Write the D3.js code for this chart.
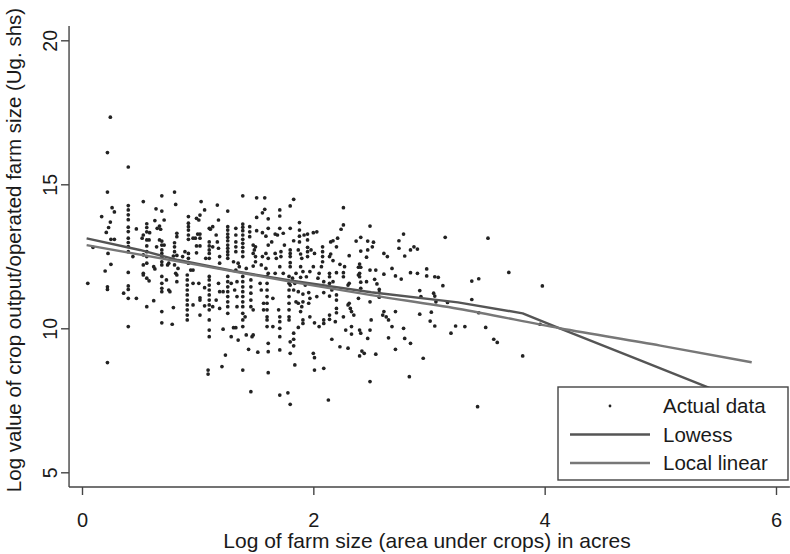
<!DOCTYPE html>
<html>
<head>
<meta charset="utf-8">
<script src="https://cdn.jsdelivr.net/npm/d3@7"></script>
<style>
  body { margin: 0; background: #fff; }
  text { font-family: "Liberation Sans", Arial, Helvetica, sans-serif; fill: #1a1a1a; }
</style>
</head>
<body>
<div id="chart"></div>
<script>
// axis ticks
const xTicks = [0, 2, 4, 6];
const yTicks = [5, 10, 15, 20];

// smoothers (log farm size -> log value per acre)
const lowessX = [0.04, 0.5, 0.83, 1.3, 1.8, 2.5, 3.25, 3.81, 4.13, 4.8, 5.38, 5.75];
const lowessY = [13.12, 12.72, 12.37, 12.0, 11.66, 11.25, 10.9, 10.52, 10.0, 8.93, 8.0, 7.4];
const localLinearX = [0.04, 1.0, 1.8, 2.5, 3.25, 4.13, 5.0, 5.79];
const localLinearY = [12.89, 12.2, 11.62, 11.15, 10.68, 10.0, 9.4, 8.82];

// actual data
const actualData = [
  [0.245,17.33],[0.22,16.1],[0.40,15.6],[0.22,14.73],[0.80,14.73],[0.81,14.3],[0.53,14.4],[0.69,14.6],
  [0.40,14.26],[0.40,14.11],[0.40,13.94],[0.40,13.77],[0.40,13.51],[0.40,13.36],[0.40,13.13],[0.40,12.98],[0.40,12.84],[0.40,12.66],
  [0.26,14.19],[0.28,14.04],[0.17,13.88],[0.245,13.69],[0.23,13.5],[0.21,13.33],[0.25,13.09],[0.28,13.09],
  [0.64,14.15],[0.69,14.07],[0.63,13.74],[0.71,13.76],[0.67,13.55],[0.65,13.47],[0.68,13.44],
  [0.56,13.63],[0.56,13.5],[0.56,13.35],[0.47,13.45],[0.53,13.24],[0.585,13.32],
  [0.56,13.07],[0.56,12.86],[0.56,12.66],[0.56,12.49],[0.52,13.13],[0.58,13.07],[0.67,13.07],[0.69,13.03],
  [0.69,12.89],[0.69,12.72],[0.69,12.6],[0.69,12.47],[0.69,12.31],[0.69,12.2],[0.71,12.89],[0.645,12.83],
  [0.82,13.3],[0.82,13.18],[0.80,12.97],[0.80,12.83],[0.80,12.66],[0.79,12.51],[0.82,12.53],
  [0.92,13.88],[0.92,13.65],[0.92,13.53],[0.92,13.41],[0.92,13.24],[0.92,13.09],[0.89,12.66],[0.92,12.6],[0.92,12.43],[0.87,12.49],
  [0.99,13.82],[1.01,13.76],[1.02,13.93],[1.03,14.4],[1.06,14.11],
  [1.0,13.27],[1.02,13.27],[1.02,13.13],[0.98,13.13],[0.96,13.13],
  [1.10,13.47],[1.11,13.44],[1.10,13.0],[1.10,12.86],[1.10,12.72],[1.10,12.6],[1.10,12.43],[1.07,12.43],
  [0.99,12.86],[1.02,12.86],[0.99,12.62],[0.92,12.26],[0.94,12.02],[0.96,12.02],
  [0.25,12.22],[0.20,11.99],[0.40,11.94],[0.53,11.91],[0.63,12.06],[0.74,12.2],[0.81,11.91],
  [0.225,12.6],[0.44,12.49],[0.095,12.81],
  [1.39,14.6],[1.51,14.53],[1.58,14.53],[1.83,14.48],[1.80,14.25],[1.17,14.28],[1.26,14.07],[1.58,14.13],[1.56,14.01],
  [1.71,14.11],[1.71,13.9],[1.51,13.85],[1.61,13.8],[2.26,14.19],[1.18,13.76],
  [1.26,13.53],[1.26,13.41],[1.26,13.27],[1.26,13.16],[1.26,13.04],[1.26,12.89],[1.26,12.78],[1.26,12.66],[1.26,12.55],[1.26,12.43],
  [1.39,13.62],[1.39,13.51],[1.39,13.39],[1.39,13.24],[1.39,13.09],[1.39,12.95],[1.39,12.81],[1.39,12.66],[1.39,12.49],
  [1.45,13.53],[1.45,13.35],[1.45,13.18],
  [1.33,13.47],[1.33,13.24],[1.33,13.0],[1.33,12.83],[1.33,12.66],
  [1.13,13.53],[1.16,13.24],[1.17,13.0],[1.13,12.83],[1.18,12.78],[1.19,12.49],[1.19,12.26],
  [1.51,13.39],[1.56,13.32],[1.59,13.2],
  [1.50,12.83],[1.48,12.89],[1.49,12.72],[1.48,12.6],[1.50,12.49],
  [1.61,13.47],[1.67,13.27],[1.64,13.0],[1.61,12.89],
  [1.71,13.47],[1.69,13.24],[1.74,13.3],
  [1.59,12.6],[1.56,12.49],[1.61,12.43],[1.67,12.6],[1.68,12.43],[1.72,12.66],[1.72,12.49],[1.75,12.89],
  [1.80,13.47],[1.83,13.04],[1.80,12.72],[1.80,12.6],[1.80,12.49],[1.80,12.28],
  [1.88,13.67],[1.88,13.41],[1.88,13.2],[1.88,13.0],[1.87,12.72],[1.89,12.58],[1.90,12.43],
  [1.92,13.24],[1.95,13.27],[2.0,13.32],[1.95,13.07],[1.95,12.81],[1.95,12.66],[1.95,12.49],[1.98,12.72],[2.01,12.6],
  [2.08,12.83],[2.08,12.66],[2.08,12.49],[2.08,12.31],[2.07,12.14],
  [2.15,13.0],[2.17,13.04],[2.14,12.49],[2.15,12.58],[2.17,12.35],
  [2.2,12.83],[2.21,13.13],[2.24,13.44],[2.26,13.59],[2.23,12.22],[2.03,13.35],
  [1.31,12.31],[1.35,12.26],[1.36,12.14],[1.33,12.02],[1.42,12.08],[1.48,12.16],[1.5,12.31],[1.55,12.2],[1.59,12.08],
  [1.61,11.91],[1.67,11.91],[1.71,12.14],[1.74,11.91],[1.8,12.14],[1.85,11.91],[1.89,12.14],[1.91,11.97],[1.97,11.97],
  [2.0,12.14],[2.05,11.91],[2.14,11.91],[2.2,11.93],[2.27,12.14],[2.26,11.93],
  [2.49,13.55],[2.41,13.16],[2.37,13.03],[2.47,13.03],[2.52,12.99],[2.51,12.83],[2.47,12.72],[2.41,12.68],[2.31,12.52],[2.46,12.47],
  [2.78,13.27],[2.74,13.04],[2.74,12.78],[2.79,12.51],[2.84,12.72],[2.87,12.83],[2.9,12.75],[2.61,12.6],[2.64,12.49],[3.14,13.16],
  [2.4,12.23],[2.39,12.12],[2.41,12.12],[2.4,11.91],[2.49,12.02],[2.54,12.02],[2.68,12.08],[2.61,11.88],[2.84,11.93],[2.9,11.91],[2.98,12.06],
  [3.51,13.13],[2.98,11.82],[3.05,11.79],[3.08,11.77],[3.69,11.94],[3.43,11.72],[2.71,11.82],[2.76,11.71],
  [3.37,11.64],[3.98,11.47],[3.12,11.48],
  [2.92,11.31],[2.93,11.1],[3.04,11.22],[3.05,11.12],[3.06,10.92],[3.16,10.9],[3.37,11.0],
  [2.92,10.49],[3.02,10.56],[3.01,10.25],[3.05,10.08],[3.23,10.08],[3.31,10.06],[3.19,9.83],[3.49,10.03],[3.43,10.54],
  [3.56,9.62],[3.59,9.51],[3.81,9.04],[3.96,10.14],[2.95,8.96],[2.83,8.32],[3.42,7.28],[2.49,8.15],[2.13,7.51],
  [1.8,7.36],[1.78,7.76],[1.71,7.68],
  [2.54,9.1],[2.44,9.13],[2.4,9.04],[2.42,9.21],
  [2.71,9.27],[2.65,9.67],[2.79,9.65],[2.84,9.48],[2.78,10.0],
  [2.68,10.06],[2.65,10.29],[2.63,10.4],[2.6,10.46],[2.61,10.58],[2.71,10.58],
  [2.5,10.29],[2.49,9.94],[2.47,9.65],[2.57,11.35],[2.57,11.08],[2.49,10.92],
  [2.33,10.06],[2.33,9.8],[2.28,9.94],[2.4,9.94],[2.41,9.83],
  [2.23,9.36],[2.3,9.31],[2.16,9.62],
  [2.0,9.13],[2.01,8.98],[1.84,8.73],[2.01,8.55],[2.09,8.61],[1.8,9.13],
  [1.83,9.83],[1.83,9.62],[1.83,9.39],[1.8,9.53],
  [2.31,10.87],[2.32,10.69],[2.33,10.58],[2.35,10.46],[2.3,10.81],[2.39,11.04],[2.41,11.6],[2.41,11.39],[2.39,11.85],
  [2.2,10.98],[2.2,10.69],[2.2,10.54],[2.26,10.4],[2.19,10.23],[2.14,10.46],[2.14,10.31],
  [2.09,10.29],[2.09,10.17],[2.05,10.06],[2.01,10.19],[1.97,10.4],[1.91,10.29],[1.91,10.17],[1.87,10.03],
  [1.9,10.75],[1.89,10.58],[1.87,10.87],[1.85,10.92],
  [2.55,11.54],[2.57,11.24],
  [2.3,11.5],[2.26,11.79],[2.16,11.33],[2.2,11.16],[2.14,11.12],[2.09,11.24],[2.03,11.1],
  [1.96,11.24],[1.91,11.19],[1.91,10.92],[1.96,10.87],[1.97,11.04],[1.83,11.33],[1.87,11.27],[1.8,11.5],
  [1.84,11.56],[1.82,11.74],[1.89,11.77],[1.94,11.79],[1.93,11.5],
  [2.09,11.62],[2.04,11.74],[2.14,11.79],[2.14,11.56],[2.17,11.62],
  [2.4,11.79],[2.46,11.62],[2.53,11.7],[2.31,11.56],
  [0.05,11.56],[0.22,11.44],[0.22,11.35],[0.22,8.81],
  [0.36,11.22],[0.4,11.47],[0.4,11.35],[0.4,11.04],[0.47,11.04],[0.4,10.06],
  [0.56,10.75],[0.62,10.96],[0.69,10.58],[0.69,10.19],[0.78,10.14],[0.79,10.72],
  [0.53,11.85],[0.56,11.74],[0.58,11.65],[0.53,12.2],[0.56,12.26],[0.53,12.55],[0.62,12.14],
  [0.69,11.8],[0.69,11.56],[0.69,11.39],[0.69,11.27],[0.73,11.68],[0.75,11.33],[0.76,11.27],[0.82,11.62],
  [0.82,11.85],[0.83,12.08],[0.8,12.2],[0.75,12.26],
  [0.91,11.85],[0.91,11.68],[0.91,11.5],[0.91,11.33],[0.91,11.16],[0.91,10.98],[0.91,10.81],[0.91,10.64],[0.91,10.46],[0.91,10.29],
  [0.96,11.56],[1.01,11.56],[0.96,10.81],[1.02,10.98],[1.02,10.46],[1.02,11.06],[1.06,11.41],[1.06,10.78],
  [1.1,11.8],[1.1,11.68],[1.1,11.5],[1.1,11.33],[1.1,11.16],[1.1,10.98],[1.1,10.81],[1.1,10.64],[1.1,10.29],[1.1,9.94],[1.1,9.71],
  [1.09,8.55],[1.09,8.41],
  [1.22,9.97],[1.21,8.67],[1.24,9.07],[1.29,9.71],[1.31,10.02],[1.33,10.02],[1.39,8.55],[1.35,9.59],
  [1.18,11.56],[1.19,11.27],[1.16,10.98],[1.22,11.27],[1.19,10.69],[1.13,10.75],
  [1.26,11.8],[1.26,11.62],[1.26,11.44],[1.26,11.27],[1.26,11.1],[1.26,10.92],[1.26,10.75],[1.26,10.52],
  [1.34,11.62],[1.34,11.1],[1.34,10.75],[1.32,11.33],[1.29,11.56],
  [1.39,11.8],[1.39,11.62],[1.39,11.44],[1.39,11.27],[1.39,11.1],[1.39,10.92],[1.39,10.75],[1.39,10.52],[1.39,10.29],[1.39,10.06],
  [1.44,9.27],[1.46,7.8],[1.52,9.17],[1.41,10.4],[1.42,9.77],[1.47,9.71],[1.48,10.64],[1.48,9.77],
  [1.46,11.68],[1.46,11.44],[1.46,11.22],[1.46,10.98],[1.46,10.75],
  [1.54,11.56],[1.55,11.33],[1.57,10.87],[1.57,10.64],
  [1.6,11.8],[1.6,11.56],[1.6,11.33],[1.6,11.1],[1.6,10.87],[1.6,10.64],[1.6,10.4],[1.6,10.29],[1.6,10.06],
  [1.61,9.48],[1.61,9.19],[1.61,8.46],
  [1.65,11.04],[1.7,10.64],[1.71,10.4],[1.71,10.23],[1.71,10.0],[1.65,10.06],[1.71,9.71],[1.71,9.25],
  [1.79,11.8],[1.79,11.56],[1.79,11.33],[1.79,11.1],[1.79,10.87],[1.79,10.64],[1.79,10.4],[1.79,10.29]
];

const legendItems = ["Actual data", "Lowess", "Local linear"];

const width = 790;
const height = 554;

const x = d3.scaleLinear().domain([0, 6]).range([82, 776]);
const y = d3.scaleLinear().domain([5, 20]).range([472.3, 40.3]);

// plot region edges in data units (axes lines span these)
const xEdge = [-0.112, 6.12];
const yEdge = [4.49, 20.5];

const svg = d3
  .select("#chart")
  .append("svg")
  .attr("width", width)
  .attr("height", height)
  .style("display", "block");

svg.append("rect").attr("width", width).attr("height", height).attr("fill", "#fff");

const axisColor = "#444";

// y axis
const gy = svg
  .append("g")
  .attr("transform", `translate(${x(xEdge[0])},0)`)
  .call(d3.axisLeft(y).tickValues(yTicks).tickSize(8).tickSizeOuter(0).tickFormat(d3.format("d")));
gy.select(".domain").remove();
gy.selectAll(".tick line").attr("stroke", axisColor).attr("stroke-width", 1.4);
gy.selectAll(".tick text")
  .attr("x", 0)
  .attr("dy", 0)
  .attr("text-anchor", "middle")
  .attr("transform", "translate(-12,0) rotate(-90)")
  .style("font-size", "19.5px");
gy.append("line")
  .attr("y1", y(yEdge[1]))
  .attr("y2", y(yEdge[0]))
  .attr("stroke", axisColor)
  .attr("stroke-width", 1.4);

// x axis
const gx = svg
  .append("g")
  .attr("transform", `translate(0,${y(yEdge[0])})`)
  .call(d3.axisBottom(x).tickValues(xTicks).tickSize(8).tickSizeOuter(0).tickFormat(d3.format("d")));
gx.select(".domain").remove();
gx.selectAll(".tick line").attr("stroke", axisColor).attr("stroke-width", 1.4);
gx.selectAll(".tick text").attr("y", 40).attr("dy", 0).style("font-size", "20px");
gx.append("line")
  .attr("x1", x(xEdge[0]))
  .attr("x2", x(xEdge[1]))
  .attr("stroke", axisColor)
  .attr("stroke-width", 1.4);

// axis titles
svg.append("text")
  .attr("x", 427)
  .attr("y", 548)
  .attr("text-anchor", "middle")
  .style("font-size", "21px")
  .text("Log of farm size (area under crops) in acres");

svg.append("text")
  .attr("transform", "translate(21,250) rotate(-90)")
  .attr("text-anchor", "middle")
  .style("font-size", "20.5px")
  .text("Log value of crop output/operated farm size (Ug. shs)");

// scatter
svg.append("g")
  .selectAll("circle")
  .data(actualData)
  .join("circle")
  .attr("cx", (d) => x(d[0]))
  .attr("cy", (d) => y(d[1]))
  .attr("r", 1.85)
  .attr("fill", "#222");

const line = d3
  .line()
  .x((d) => x(d[0]))
  .y((d) => y(d[1]));

svg.append("path")
  .datum(lowessX.map((v, i) => [v, lowessY[i]]))
  .attr("fill", "none")
  .attr("stroke", "#555")
  .attr("stroke-width", 2.4)
  .attr("stroke-linejoin", "round")
  .attr("d", line);

svg.append("path")
  .datum(localLinearX.map((v, i) => [v, localLinearY[i]]))
  .attr("fill", "none")
  .attr("stroke", "#777")
  .attr("stroke-width", 2.4)
  .attr("stroke-linejoin", "round")
  .attr("d", line.curve(d3.curveMonotoneX));

// legend
const legend = svg.append("g").attr("transform", "translate(558,387)");
legend.append("rect")
  .attr("width", 230)
  .attr("height", 93)
  .attr("fill", "#fff")
  .attr("stroke", "#444")
  .attr("stroke-width", 1.4);

const rows = legend
  .selectAll("g.row")
  .data(legendItems)
  .join("g")
  .attr("class", "row")
  .attr("transform", (d, i) => `translate(0,${19 + i * 28.5})`);

rows.filter((d, i) => i === 0)
  .append("circle")
  .attr("cx", 52)
  .attr("cy", 0)
  .attr("r", 1.4)
  .attr("fill", "#222");

rows.filter((d, i) => i > 0)
  .append("line")
  .attr("x1", 12)
  .attr("x2", 92)
  .attr("stroke", (d, i) => (i === 0 ? "#555" : "#777"))
  .attr("stroke-width", 2.6);

rows.append("text")
  .attr("x", 105)
  .attr("y", 7)
  .style("font-size", "20.5px")
  .text((d) => d);
</script>
</body>
</html>
